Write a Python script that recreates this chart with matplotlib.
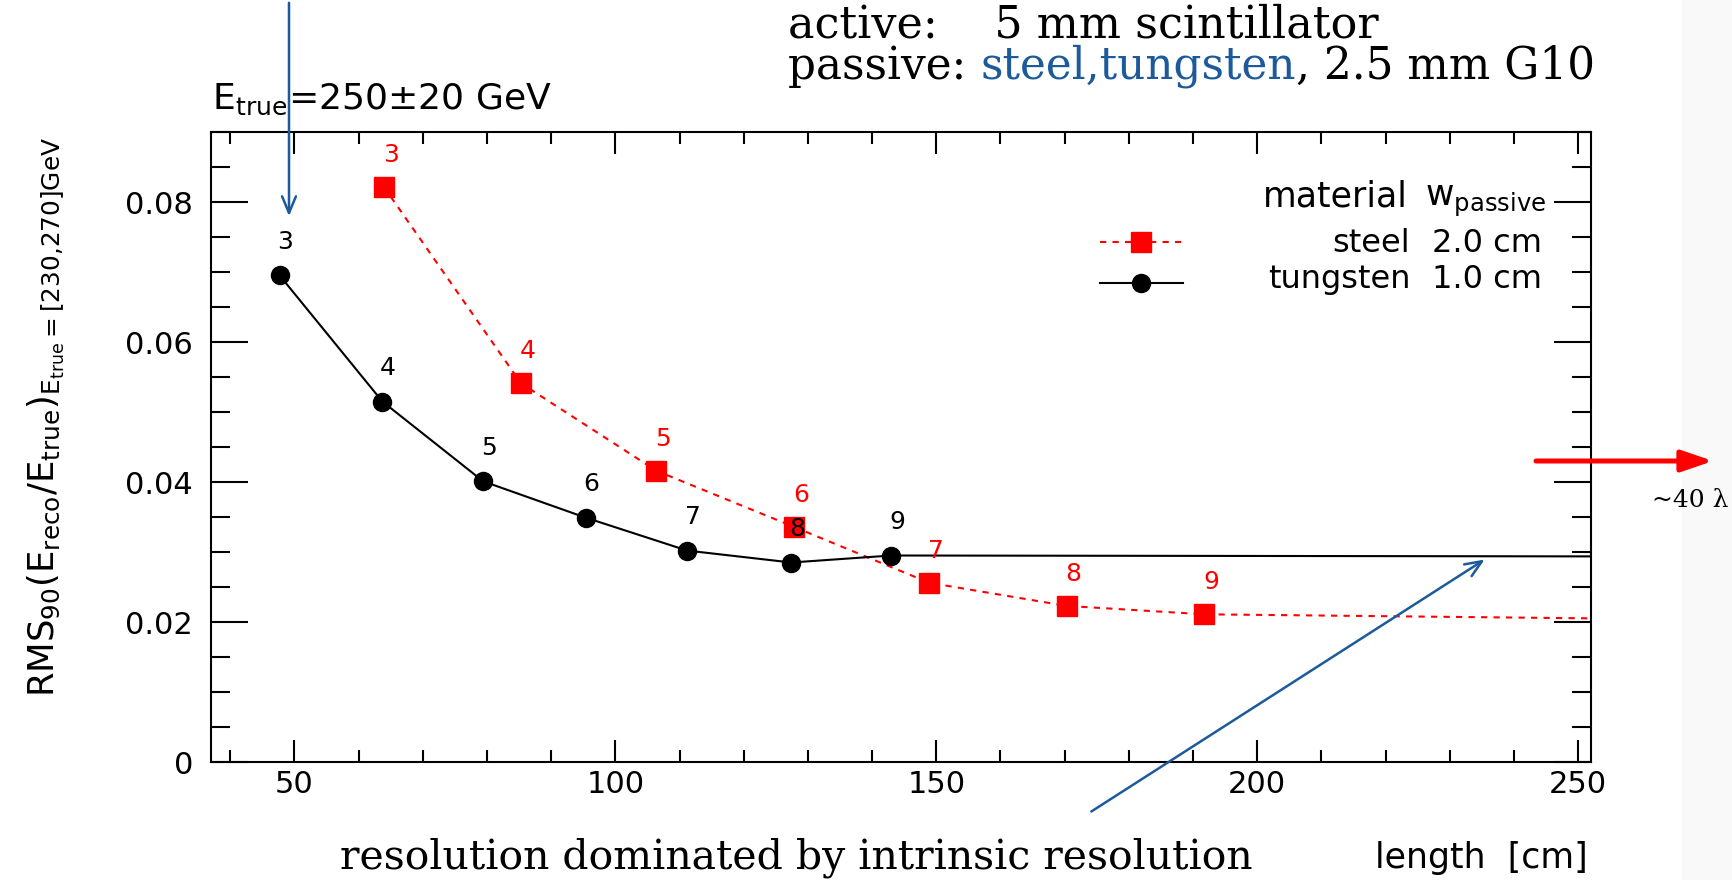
import matplotlib
matplotlib.use("Agg")
import matplotlib.pyplot as plt
from matplotlib.patches import Rectangle

W, H = 1733, 880

# number of layers (point labels)
layers = [3, 4, 5, 6, 7, 8, 9]

# tungsten, 1.0 cm passive
w_length = [47.7, 63.7, 79.4, 95.4, 111.2, 127.4, 143.0]
w_rms = [0.0695, 0.0515, 0.0401, 0.0349, 0.0302, 0.0285, 0.0295]

# steel, 2.0 cm passive
fe_length = [63.9, 85.3, 106.4, 127.8, 148.9, 170.3, 191.7]
fe_rms = [0.0822, 0.0541, 0.0416, 0.0336, 0.0256, 0.0223, 0.0211]

# the ~40 lambda point, off the right edge
far_length = 400
w_far = 0.0292
fe_far = 0.0191

SANS = "DejaVu Sans"
SERIF = "DejaVu Serif"
BLUE = "#1c5a9c"
plt.rcParams["font.family"] = SANS


def fxy(px, py):
    # top-left pixel -> figure fraction
    return px / W, 1 - py / H


fig = plt.figure(figsize=(W / 100, H / 100), dpi=100)
fig.patches.append(Rectangle((1682 / W, 0), (W - 1682) / W, 1, transform=fig.transFigure,
                             color="#f9f9f9", zorder=-5))

ax = fig.add_axes([211 / W, 1 - 762 / H, (1591 - 211) / W, (762 - 132) / H])

ax.plot(fe_length + [far_length], fe_rms + [fe_far], color="red", lw=1.5,
        ls=(0, (3, 3)), marker="s", ms=14, markevery=list(range(len(fe_length))), zorder=3)
ax.plot(w_length + [far_length], w_rms + [w_far], color="black", lw=1.5,
        marker="o", ms=13, markevery=list(range(len(w_length))), zorder=3)

for n, x, y in zip(layers, w_length, w_rms):
    ax.annotate(str(n), (x, y), xytext=(4, 24), textcoords="offset points",
                ha="center", va="center", fontsize=18, color="black")
for n, x, y in zip(layers, fe_length, fe_rms):
    ax.annotate(str(n), (x, y), xytext=(5, 23), textcoords="offset points",
                ha="center", va="center", fontsize=18, color="red")

ax.set_xlim(37, 252)
ax.set_ylim(0, 0.09)
ax.set_xticks([50, 100, 150, 200, 250])
ax.set_xticks(range(40, 251, 10), minor=True)
ax.set_yticks([0, 0.02, 0.04, 0.06, 0.08])
ax.set_yticks([i * 0.005 for i in range(19)], minor=True)
ax.set_yticklabels(["0", "0.02", "0.04", "0.06", "0.08"])
ax.tick_params(axis="both", which="both", direction="in", top=True, right=True,
               width=1.5, labelsize=22, colors="black")
ax.tick_params(axis="x", which="major", length=16, pad=6)
ax.tick_params(axis="x", which="minor", length=8.6)
ax.tick_params(axis="y", which="major", length=26.5, pad=13)
ax.tick_params(axis="y", which="minor", length=14)
for s in ax.spines.values():
    s.set_linewidth(1.5)

# legend, drawn ROOT style
ax.plot([0.644, 0.704], [0.825, 0.825], transform=ax.transAxes, color="red", lw=1.5,
        ls=(0, (3, 3)), clip_on=False)
ax.plot([0.674], [0.825], transform=ax.transAxes, color="red", marker="s", ms=14, clip_on=False)
ax.plot([0.644, 0.704], [0.760, 0.760], transform=ax.transAxes, color="black", lw=1.5,
        clip_on=False)
ax.plot([0.674], [0.760], transform=ax.transAxes, color="black", marker="o", ms=13, clip_on=False)
ax.text(0.867, 0.8825, "material", transform=ax.transAxes, ha="right", va="baseline", fontsize=25)
ax.text(0.880, 0.8825, r"w$_{\mathregular{passive}}$", transform=ax.transAxes, ha="left",
        va="baseline", fontsize=25)
ax.text(0.869, 0.8095, "steel", transform=ax.transAxes, ha="right", va="baseline", fontsize=23)
ax.text(0.9645, 0.8095, "2.0 cm", transform=ax.transAxes, ha="right", va="baseline", fontsize=23)
ax.text(0.869, 0.752, "tungsten", transform=ax.transAxes, ha="right", va="baseline", fontsize=23)
ax.text(0.9645, 0.752, "1.0 cm", transform=ax.transAxes, ha="right", va="baseline", fontsize=23)

# title and axis titles
fig.text(*fxy(212, 109), r"E$_{\mathregular{true}}$=250$\pm$20 GeV", ha="left", va="baseline",
         fontsize=26)
fig.text(*fxy(46, 137),
         r"RMS$_{\mathregular{90}}$(E$_{\mathregular{reco}}$/E$_{\mathregular{true}}$)"
         r"$_{\mathregular{E_{true}=[230{,}270]GeV}}$",
         rotation=90, ha="center", va="top", fontsize=25.5)
fig.text(*fxy(1588, 868), "length  [cm]", ha="right", va="baseline", fontsize=25)

# slide annotations
PASSIVE_Y = 79
fig.text(*fxy(788, 37), "active:    5 mm scintillator", ha="left", va="baseline",
         fontsize=32, family=SERIF)
t1 = fig.text(*fxy(788, PASSIVE_Y), "passive: ", ha="left", va="baseline", fontsize=31.5,
              family=SERIF)
t2 = fig.text(0, 0, "steel,tungsten", ha="left", va="baseline", fontsize=31.5, family=SERIF,
              color=BLUE)
t3 = fig.text(0, 0, ", 2.5 mm G10", ha="left", va="baseline", fontsize=31.5, family=SERIF)
fig.canvas.draw()
r = fig.canvas.get_renderer()
bb1 = t1.get_window_extent(r)
t2.set_position((bb1.x1 / W, 1 - PASSIVE_Y / H))
bb2 = t2.get_window_extent(r)
t3.set_position((bb2.x1 / W, 1 - PASSIVE_Y / H))

fig.text(*fxy(340, 868), "resolution dominated by intrinsic resolution", ha="left",
         va="baseline", fontsize=29.5, family=SERIF)
fig.text(*fxy(1690, 500), "~40 λ", ha="center", va="center", fontsize=18, family=SERIF)

# arrows
ax.annotate("", xy=fxy(289, 219), xytext=fxy(289, 0), xycoords="figure fraction",
            textcoords="figure fraction",
            arrowprops=dict(arrowstyle="->,head_length=1.2,head_width=0.5", color=BLUE, lw=1.8))
ax.annotate("", xy=fxy(1487, 558), xytext=fxy(1089, 813), xycoords="figure fraction",
            textcoords="figure fraction",
            arrowprops=dict(arrowstyle="->,head_length=1.2,head_width=0.5", color=BLUE, lw=1.8))
ax.annotate("", xy=fxy(1713, 461), xytext=fxy(1536, 461), xycoords="figure fraction",
            textcoords="figure fraction",
            arrowprops=dict(arrowstyle="-|>,head_length=1.9,head_width=0.65", color="red",
                            lw=3.6, shrinkA=0, shrinkB=0))

fig.savefig("out.png", dpi=100)
